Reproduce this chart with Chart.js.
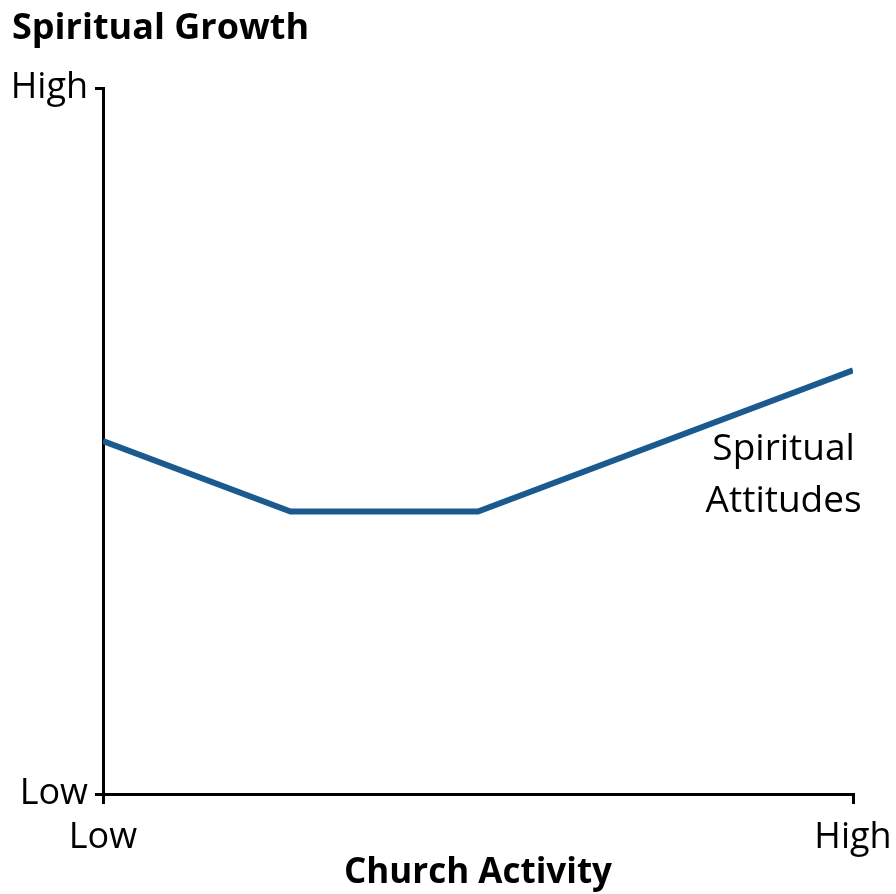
<!DOCTYPE html>
<html lang="en">
<head>
<meta charset="utf-8" />
<title>Spiritual Growth</title>
<script src="https://cdn.jsdelivr.net/npm/chart.js@4/dist/chart.umd.min.js"></script>
<style>
  html, body { margin: 0; padding: 0; background: #fff; }
  #wrap { width: 896px; height: 894px; }
</style>
</head>
<body>
<div id="wrap"><canvas id="growth"></canvas></div>

<script>
// church activity (0 = low, 4 = high) vs spiritual growth (0 = low, 100 = high)
var activity = [0, 1, 2, 4];
var growth = [50, 40, 40, 60];

var xTickValues = [0, 4];
var xTickLabels = ['Low', 'High'];
var yTickValues = [0, 100];
var yTickLabels = ['Low', 'High'];

var seriesLabel = ['Spiritual', 'Attitudes'];

var FONT = "'Open Sans', 'Noto Sans', sans-serif";

// writes the series name under the right end of the line
var seriesNote = {
  id: 'seriesNote',
  afterDatasetsDraw: function (chart) {
    var ctx = chart.ctx;
    var xs = chart.scales.x, ys = chart.scales.y;
    var cx = xs.getPixelForValue(3.63);
    var y0 = ys.getPixelForValue(47.3);
    ctx.save();
    ctx.fillStyle = '#000';
    ctx.font = '37px ' + FONT;
    ctx.textAlign = 'center';
    ctx.textBaseline = 'alphabetic';
    seriesLabel.forEach(function (t, i) {
      ctx.fillText(t, cx, y0 + i * 52);
    });
    ctx.restore();
  }
};

var ctx = document.getElementById('growth').getContext('2d');
new Chart(ctx, {
  type: 'line',
  data: {
    datasets: [{
      label: 'Spiritual Attitudes',
      data: activity.map(function (a, i) { return {x: a, y: growth[i]}; }),
      borderColor: '#1a5a8e',
      borderWidth: 6,
      pointRadius: 0,
      tension: 0
    }]
  },
  options: {
    responsive: true,
    maintainAspectRatio: false,
    animation: false,
    layout: { padding: { left: 12, right: 43, top: 0, bottom: 0 } },
    plugins: {
      legend: { display: false },
      tooltip: { enabled: false },
      title: {
        display: true,
        text: 'Spiritual Growth',
        align: 'start',
        color: '#000',
        font: { family: FONT, size: 36, weight: 'bold', lineHeight: 1.2 },
        padding: { top: 7, bottom: 37.8 }
      }
    },
    scales: {
      x: {
        type: 'linear',
        min: 0,
        max: 4,
        afterBuildTicks: function (s) { s.ticks = xTickValues.map(function (v) { return {value: v}; }); },
        afterFit: function (s) { s.height = 100; s.paddingLeft = 0; s.paddingRight = 0; },
        ticks: {
          color: '#000',
          padding: 12,
          maxRotation: 0,
          font: { family: FONT, size: 36 },
          callback: function (v, i) { return xTickLabels[i]; }
        },
        grid: { drawOnChartArea: false, drawTicks: true, tickLength: 10, color: '#000', lineWidth: 3 },
        border: { display: true, color: '#000', width: 3 },
        title: {
          display: true,
          text: 'Church Activity',
          color: '#000',
          font: { family: FONT, size: 35, weight: 'bold', lineHeight: 1.2 },
          padding: { top: 0, bottom: 0 }
        }
      },
      y: {
        type: 'linear',
        min: 0,
        max: 100,
        afterBuildTicks: function (s) { s.ticks = yTickValues.map(function (v) { return {value: v}; }); },
        afterFit: function (s) { s.width = 91; },
        ticks: {
          color: '#000',
          padding: 7,
          font: { family: FONT, size: 36 },
          callback: function (v, i) { return yTickLabels[i]; }
        },
        grid: { drawOnChartArea: false, drawTicks: true, tickLength: 8, color: '#000', lineWidth: 3 },
        border: { display: true, color: '#000', width: 3 }
      }
    }
  },
  plugins: [seriesNote]
});
</script>
</body>
</html>
